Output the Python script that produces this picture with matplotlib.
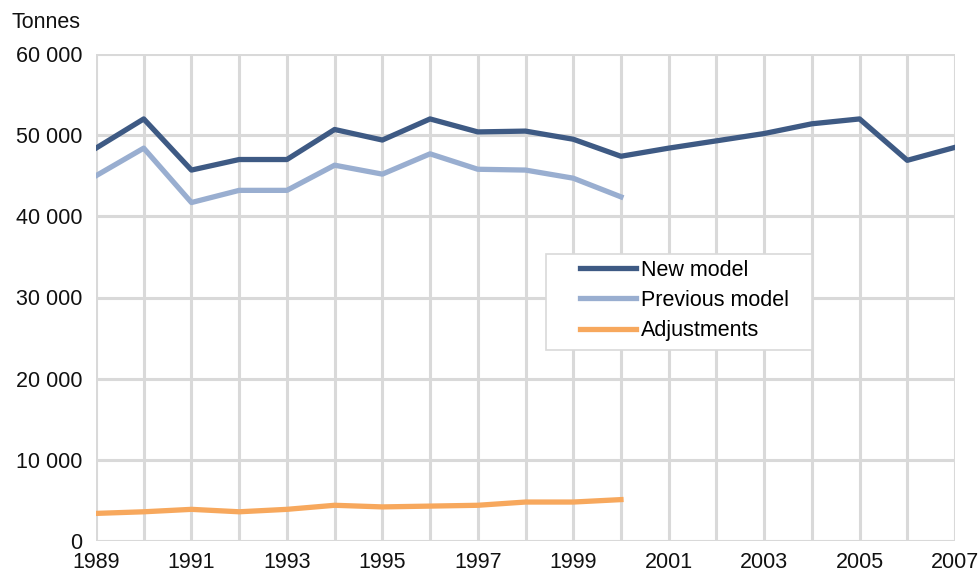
import numpy as np
import matplotlib.pyplot as plt
from matplotlib.patches import Rectangle
from matplotlib.ticker import FuncFormatter

plt.rcParams['font.family'] = ['Liberation Sans', 'DejaVu Sans']

years_new = np.arange(1989, 2008)
new_model = [48400, 52000, 45700, 47000, 47000, 50700, 49400, 52000, 50400, 50500,
             49500, 47400, 48400, 49300, 50200, 51400, 52000, 46900, 48500]

years_old = np.arange(1989, 2001)
previous_model = [45000, 48400, 41700, 43200, 43200, 46300, 45200, 47700, 45800, 45700,
                  44700, 42400]
adjustments = [3400, 3600, 3900, 3600, 3900, 4400, 4200, 4300, 4400, 4800, 4800, 5100]

fig = plt.figure(figsize=(9.79, 5.75), dpi=100)
ax = fig.add_axes([96/979, 1 - 541/575, 859/979, 487/575])

ax.plot(years_new, new_model, color='#3e5a84', lw=3.8, label='New model', zorder=3)
ax.plot(years_old, previous_model, color='#99aed0', lw=3.8, label='Previous model', zorder=3)
ax.plot(years_old, adjustments, color='#f7a85d', lw=3.8, label='Adjustments', zorder=3)

ax.set_xlim(1989, 2007)
ax.set_ylim(0, 60000)
ax.set_xticks(np.arange(1989, 2008), minor=True)
ax.set_xticks(np.arange(1989, 2008, 2))
ax.set_yticks(np.arange(0, 60001, 10000))
ax.yaxis.set_major_formatter(FuncFormatter(lambda v, p: f'{int(v):,}'.replace(',', ' ')))

ax.grid(True, which='both', axis='x', color='#d9d9d9', lw=2.2, zorder=0)
ax.grid(True, which='major', axis='y', color='#d9d9d9', lw=2.2, zorder=0)
ax.set_axisbelow(True)
for s in ax.spines.values():
    s.set_visible(False)
ax.tick_params(which='both', length=0, labelsize=15.5, colors='#111111')
ax.tick_params(axis='x', pad=8)
ax.tick_params(axis='y', pad=10)

fig.text(12/979, 1 - 22/575, 'Tonnes', fontsize=15.5, va='center', ha='left', color='#111111')

# legend box drawn separately so the padding can match
ax.add_patch(Rectangle((0.524, 0.392), 0.3095, 0.197, transform=ax.transAxes,
                       facecolor='white', edgecolor='#d9d9d9', lw=1.2, zorder=4))
leg = ax.legend(loc='upper left', bbox_to_anchor=(0.5634, 0.578), fontsize=15.5,
                frameon=False, handlelength=2.6, handletextpad=0.25, labelspacing=0.44,
                borderpad=0, borderaxespad=0)
leg.set_zorder(5)

fig.savefig('out.png', dpi=100)
